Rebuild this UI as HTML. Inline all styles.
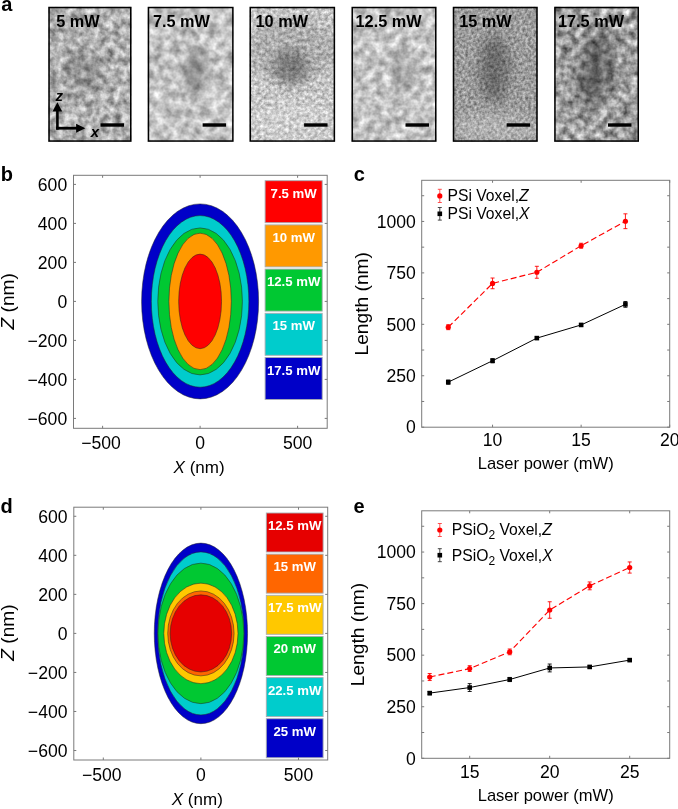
<!DOCTYPE html>
<html><head><meta charset="utf-8"><style>
html,body{margin:0;padding:0;background:#fff;width:678px;height:809px;overflow:hidden}
svg{display:block;font-family:"Liberation Sans", sans-serif;will-change:transform}
</style></head><body>
<svg width="678" height="809" viewBox="0 0 678 809">
<rect width="678" height="809" fill="#fff"/>
<defs>
<clipPath id="fc0"><rect x="48.3" y="6.8" width="83.20" height="135.00"/></clipPath>
<filter id="fn0" x="0" y="0" width="100%" height="100%" color-interpolation-filters="sRGB"><feTurbulence type="fractalNoise" baseFrequency="0.14" numOctaves="3" seed="3"/><feColorMatrix type="matrix" values="0.75 0 0 0 0.315 0.75 0 0 0 0.315 0.75 0 0 0 0.315 0 0 0 0 1"/></filter>
<clipPath id="fc1"><rect x="147.7" y="6.8" width="85.90" height="135.00"/></clipPath>
<filter id="fn1" x="0" y="0" width="100%" height="100%" color-interpolation-filters="sRGB"><feTurbulence type="fractalNoise" baseFrequency="0.11" numOctaves="3" seed="7"/><feColorMatrix type="matrix" values="0.6375 0 0 0 0.451 0.6375 0 0 0 0.451 0.6375 0 0 0 0.451 0 0 0 0 1"/></filter>
<clipPath id="fc2"><rect x="249.5" y="6.8" width="85.60" height="135.00"/></clipPath>
<filter id="fn2" x="0" y="0" width="100%" height="100%" color-interpolation-filters="sRGB"><feTurbulence type="fractalNoise" baseFrequency="0.28" numOctaves="3" seed="11"/><feColorMatrix type="matrix" values="0.6000000000000001 0 0 0 0.480 0.6000000000000001 0 0 0 0.480 0.6000000000000001 0 0 0 0.480 0 0 0 0 1"/></filter>
<clipPath id="fc3"><rect x="351.5" y="6.8" width="85.00" height="135.00"/></clipPath>
<filter id="fn3" x="0" y="0" width="100%" height="100%" color-interpolation-filters="sRGB"><feTurbulence type="fractalNoise" baseFrequency="0.12" numOctaves="3" seed="5"/><feColorMatrix type="matrix" values="0.6375 0 0 0 0.451 0.6375 0 0 0 0.451 0.6375 0 0 0 0.451 0 0 0 0 1"/></filter>
<clipPath id="fc4"><rect x="452.8" y="6.8" width="84.90" height="135.00"/></clipPath>
<filter id="fn4" x="0" y="0" width="100%" height="100%" color-interpolation-filters="sRGB"><feTurbulence type="fractalNoise" baseFrequency="0.35" numOctaves="2" seed="9"/><feColorMatrix type="matrix" values="0.6000000000000001 0 0 0 0.310 0.6000000000000001 0 0 0 0.310 0.6000000000000001 0 0 0 0.310 0 0 0 0 1"/></filter>
<clipPath id="fc5"><rect x="554.2" y="6.8" width="84.80" height="135.00"/></clipPath>
<filter id="fn5" x="0" y="0" width="100%" height="100%" color-interpolation-filters="sRGB"><feTurbulence type="fractalNoise" baseFrequency="0.13" numOctaves="3" seed="13"/><feColorMatrix type="matrix" values="0.9375 0 0 0 0.151 0.9375 0 0 0 0.151 0.9375 0 0 0 0.151 0 0 0 0 1"/></filter>
<filter id="blur6" x="-50%" y="-50%" width="200%" height="200%"><feGaussianBlur stdDeviation="6"/></filter>
</defs>
<g clip-path="url(#fc0)">
<rect x="48.3" y="6.8" width="83.20" height="135.00" filter="url(#fn0)"/>
<ellipse cx="83.2" cy="70.2" rx="20" ry="22" fill="#000" opacity="0.16" filter="url(#blur6)" transform="rotate(0 83.2 70.2)"/>
</g>
<rect x="49.05" y="7.55" width="81.70" height="133.50" fill="none" stroke="#000" stroke-width="1.5"/>
<text x="56.29" y="27.1" font-size="16.3" font-weight="bold" fill="#000">5 mW</text>
<rect x="100.5" y="123.3" width="23.5" height="3.4" fill="#000"/>
<g clip-path="url(#fc1)">
<rect x="147.7" y="6.8" width="85.90" height="135.00" filter="url(#fn1)"/>
<ellipse cx="194.9" cy="71.6" rx="9" ry="22" fill="#000" opacity="0.36" filter="url(#blur6)" transform="rotate(0 194.9 71.6)"/>
</g>
<rect x="148.45" y="7.55" width="84.40" height="133.50" fill="none" stroke="#000" stroke-width="1.5"/>
<text x="152.90" y="27.1" font-size="16.3" font-weight="bold" fill="#000">7.5 mW</text>
<rect x="202.6" y="123.3" width="23.5" height="3.4" fill="#000"/>
<g clip-path="url(#fc2)">
<rect x="249.5" y="6.8" width="85.60" height="135.00" filter="url(#fn2)"/>
<ellipse cx="292.3" cy="50.0" rx="45" ry="32" fill="#000" opacity="0.12" filter="url(#blur6)" transform="rotate(0 292.3 50.0)"/>
<ellipse cx="290.6" cy="67.5" rx="17" ry="18" fill="#000" opacity="0.3" filter="url(#blur6)" transform="rotate(0 290.6 67.5)"/>
<ellipse cx="292.3" cy="121.5" rx="40" ry="20" fill="#fff" opacity="0.15" filter="url(#blur6)" transform="rotate(0 292.3 121.5)"/>
</g>
<rect x="250.25" y="7.55" width="84.10" height="133.50" fill="none" stroke="#000" stroke-width="1.5"/>
<text x="255.57" y="27.1" font-size="16.3" font-weight="bold" fill="#000">10 mW</text>
<rect x="304.1" y="123.3" width="23.5" height="3.4" fill="#000"/>
<g clip-path="url(#fc3)">
<rect x="351.5" y="6.8" width="85.00" height="135.00" filter="url(#fn3)"/>
<ellipse cx="402.5" cy="74.3" rx="7" ry="24" fill="#000" opacity="0.26" filter="url(#blur6)" transform="rotate(0 402.5 74.3)"/>
</g>
<rect x="352.25" y="7.55" width="83.50" height="133.50" fill="none" stroke="#000" stroke-width="1.5"/>
<text x="355.57" y="27.1" font-size="16.3" font-weight="bold" fill="#000">12.5 mW</text>
<rect x="405.5" y="123.3" width="23.5" height="3.4" fill="#000"/>
<g clip-path="url(#fc4)">
<rect x="452.8" y="6.8" width="84.90" height="135.00" filter="url(#fn4)"/>
<ellipse cx="494.4" cy="68.9" rx="15" ry="34" fill="#000" opacity="0.3" filter="url(#blur6)" transform="rotate(0 494.4 68.9)"/>
<ellipse cx="495.2" cy="128.3" rx="45" ry="14" fill="#fff" opacity="0.22" filter="url(#blur6)" transform="rotate(0 495.2 128.3)"/>
</g>
<rect x="453.55" y="7.55" width="83.40" height="133.50" fill="none" stroke="#000" stroke-width="1.5"/>
<text x="459.17" y="27.1" font-size="16.3" font-weight="bold" fill="#000">15 mW</text>
<rect x="506.7" y="123.3" width="23.5" height="3.4" fill="#000"/>
<g clip-path="url(#fc5)">
<rect x="554.2" y="6.8" width="84.80" height="135.00" filter="url(#fn5)"/>
<ellipse cx="595.8" cy="68.9" rx="17" ry="38" fill="#000" opacity="0.36" filter="url(#blur6)" transform="rotate(10 595.8 68.9)"/>
</g>
<rect x="554.95" y="7.55" width="83.30" height="133.50" fill="none" stroke="#000" stroke-width="1.5"/>
<text x="557.97" y="27.1" font-size="16.3" font-weight="bold" fill="#000">17.5 mW</text>
<rect x="608.0" y="123.3" width="23.5" height="3.4" fill="#000"/>
<path d="M57.4 129.7V110" stroke="#000" stroke-width="2.6" fill="none"/>
<path d="M52.5 111.6L57.4 102.3L62.2 111.6Z" fill="#000"/>
<path d="M56.1 128.2H77" stroke="#000" stroke-width="2.8" fill="none"/>
<path d="M76.1 123.8L85.3 128.2L76.1 132.7Z" fill="#000"/>
<text x="55.6" y="100.6" font-size="15" font-weight="bold" font-style="italic">z</text>
<text x="90.8" y="136.9" font-size="15" font-weight="bold" font-style="italic">x</text>
<text x="1.2" y="11.3" font-size="20" font-weight="bold">a</text>
<text x="0.8" y="180.8" font-size="20" font-weight="bold">b</text>
<text x="353.8" y="180.8" font-size="20" font-weight="bold">c</text>
<text x="0.6" y="512.9" font-size="20" font-weight="bold">d</text>
<text x="353.6" y="513" font-size="20" font-weight="bold">e</text>
<rect x="73.5" y="175.3" width="253.7" height="253.0" fill="#fff" stroke="#7a7a7a" stroke-width="1"/>
<ellipse cx="200.1" cy="301.4" rx="58.50" ry="97.50" fill="#0000c8" stroke="#222" stroke-width="0.5"/>
<ellipse cx="200.1" cy="301.4" rx="48.75" ry="85.80" fill="#00cccc" stroke="#222" stroke-width="0.5"/>
<ellipse cx="200.1" cy="301.4" rx="42.32" ry="73.52" fill="#00c832" stroke="#222" stroke-width="0.5"/>
<ellipse cx="200.1" cy="301.4" rx="31.20" ry="68.25" fill="#ff9900" stroke="#222" stroke-width="0.5"/>
<ellipse cx="200.1" cy="301.4" rx="21.45" ry="47.29" fill="#ff0000" stroke="#222" stroke-width="0.5"/>
<rect x="265.1" y="180.70" width="57.099999999999966" height="42" fill="#ff0000" stroke="#a8adb3" stroke-width="0.9"/>
<text x="293.65" y="197.70" font-size="13.2" font-weight="bold" fill="#fff" text-anchor="middle">7.5 mW</text>
<rect x="265.1" y="224.90" width="57.099999999999966" height="42" fill="#ff9900" stroke="#a8adb3" stroke-width="0.9"/>
<text x="293.65" y="241.90" font-size="13.2" font-weight="bold" fill="#fff" text-anchor="middle">10 mW</text>
<rect x="265.1" y="269.10" width="57.099999999999966" height="42" fill="#00c832" stroke="#a8adb3" stroke-width="0.9"/>
<text x="293.65" y="286.10" font-size="13.2" font-weight="bold" fill="#fff" text-anchor="middle">12.5 mW</text>
<rect x="265.1" y="313.30" width="57.099999999999966" height="42" fill="#00cccc" stroke="#a8adb3" stroke-width="0.9"/>
<text x="293.65" y="330.30" font-size="13.2" font-weight="bold" fill="#fff" text-anchor="middle">15 mW</text>
<rect x="265.1" y="357.50" width="57.099999999999966" height="42" fill="#0000c8" stroke="#a8adb3" stroke-width="0.9"/>
<text x="293.65" y="374.50" font-size="13.2" font-weight="bold" fill="#fff" text-anchor="middle">17.5 mW</text>
<path d="M73.5 418.40h2.5M327.2 418.40h-2.5" stroke="#7a7a7a" stroke-width="1"/>
<text x="67.20" y="424.70" font-size="17.6" text-anchor="end">−600</text>
<path d="M73.5 379.40h2.5M327.2 379.40h-2.5" stroke="#7a7a7a" stroke-width="1"/>
<text x="67.20" y="385.70" font-size="17.6" text-anchor="end">−400</text>
<path d="M73.5 340.40h2.5M327.2 340.40h-2.5" stroke="#7a7a7a" stroke-width="1"/>
<text x="67.20" y="346.70" font-size="17.6" text-anchor="end">−200</text>
<path d="M73.5 301.40h2.5M327.2 301.40h-2.5" stroke="#7a7a7a" stroke-width="1"/>
<text x="67.20" y="307.70" font-size="17.6" text-anchor="end">0</text>
<path d="M73.5 262.40h2.5M327.2 262.40h-2.5" stroke="#7a7a7a" stroke-width="1"/>
<text x="67.20" y="268.70" font-size="17.6" text-anchor="end">200</text>
<path d="M73.5 223.40h2.5M327.2 223.40h-2.5" stroke="#7a7a7a" stroke-width="1"/>
<text x="67.20" y="229.70" font-size="17.6" text-anchor="end">400</text>
<path d="M73.5 184.40h2.5M327.2 184.40h-2.5" stroke="#7a7a7a" stroke-width="1"/>
<text x="67.20" y="190.70" font-size="17.6" text-anchor="end">600</text>
<path d="M102.60 428.3v-2.5M102.60 175.3v2.5" stroke="#7a7a7a" stroke-width="1"/>
<text x="101.10" y="448.80" font-size="17.6" text-anchor="middle">−500</text>
<path d="M200.10 428.3v-2.5M200.10 175.3v2.5" stroke="#7a7a7a" stroke-width="1"/>
<text x="200.10" y="448.80" font-size="17.6" text-anchor="middle">0</text>
<path d="M297.60 428.3v-2.5M297.60 175.3v2.5" stroke="#7a7a7a" stroke-width="1"/>
<text x="297.60" y="448.80" font-size="17.6" text-anchor="middle">500</text>
<text x="199.10" y="472.7" font-size="17" text-anchor="middle"><tspan font-style="italic">X</tspan> (nm)</text>
<text transform="translate(14.3 301.30) rotate(-90)" font-size="19.1" text-anchor="middle"><tspan font-style="italic">Z</tspan> (nm)</text>
<rect x="73.8" y="507.2" width="253.89999999999998" height="252.8" fill="#fff" stroke="#7a7a7a" stroke-width="1"/>
<ellipse cx="200.9" cy="633.4" rx="46.65" ry="90.28" fill="#0000c8" stroke="#222" stroke-width="0.5"/>
<ellipse cx="200.9" cy="633.4" rx="43.24" ry="81.50" fill="#00cccc" stroke="#222" stroke-width="0.5"/>
<ellipse cx="200.9" cy="633.4" rx="42.94" ry="70.27" fill="#00c832" stroke="#222" stroke-width="0.5"/>
<ellipse cx="200.9" cy="633.4" rx="37.09" ry="50.26" fill="#ffc800" stroke="#222" stroke-width="0.5"/>
<ellipse cx="200.9" cy="633.4" rx="33.18" ry="42.46" fill="#ff6600" stroke="#222" stroke-width="0.5"/>
<ellipse cx="200.9" cy="633.4" rx="30.74" ry="38.55" fill="#e60000" stroke="#222" stroke-width="0.5"/>
<rect x="266.3" y="513.00" width="56.80000000000001" height="39.0" fill="#e60000" stroke="#a8adb3" stroke-width="0.9"/>
<text x="294.70" y="530.00" font-size="13.2" font-weight="bold" fill="#fff" text-anchor="middle">12.5 mW</text>
<rect x="266.3" y="554.15" width="56.80000000000001" height="39.0" fill="#ff6600" stroke="#a8adb3" stroke-width="0.9"/>
<text x="294.70" y="571.15" font-size="13.2" font-weight="bold" fill="#fff" text-anchor="middle">15 mW</text>
<rect x="266.3" y="595.30" width="56.80000000000001" height="39.0" fill="#ffc800" stroke="#a8adb3" stroke-width="0.9"/>
<text x="294.70" y="612.30" font-size="13.2" font-weight="bold" fill="#fff" text-anchor="middle">17.5 mW</text>
<rect x="266.3" y="636.45" width="56.80000000000001" height="39.0" fill="#00c832" stroke="#a8adb3" stroke-width="0.9"/>
<text x="294.70" y="653.45" font-size="13.2" font-weight="bold" fill="#fff" text-anchor="middle">20 mW</text>
<rect x="266.3" y="677.60" width="56.80000000000001" height="39.0" fill="#00cccc" stroke="#a8adb3" stroke-width="0.9"/>
<text x="294.70" y="694.60" font-size="13.2" font-weight="bold" fill="#fff" text-anchor="middle">22.5 mW</text>
<rect x="266.3" y="718.75" width="56.80000000000001" height="39.0" fill="#0000c8" stroke="#a8adb3" stroke-width="0.9"/>
<text x="294.70" y="735.75" font-size="13.2" font-weight="bold" fill="#fff" text-anchor="middle">25 mW</text>
<path d="M73.8 750.52h2.5M327.7 750.52h-2.5" stroke="#7a7a7a" stroke-width="1"/>
<text x="67.50" y="756.82" font-size="17.6" text-anchor="end">−600</text>
<path d="M73.8 711.48h2.5M327.7 711.48h-2.5" stroke="#7a7a7a" stroke-width="1"/>
<text x="67.50" y="717.78" font-size="17.6" text-anchor="end">−400</text>
<path d="M73.8 672.44h2.5M327.7 672.44h-2.5" stroke="#7a7a7a" stroke-width="1"/>
<text x="67.50" y="678.74" font-size="17.6" text-anchor="end">−200</text>
<path d="M73.8 633.40h2.5M327.7 633.40h-2.5" stroke="#7a7a7a" stroke-width="1"/>
<text x="67.50" y="639.70" font-size="17.6" text-anchor="end">0</text>
<path d="M73.8 594.36h2.5M327.7 594.36h-2.5" stroke="#7a7a7a" stroke-width="1"/>
<text x="67.50" y="600.66" font-size="17.6" text-anchor="end">200</text>
<path d="M73.8 555.32h2.5M327.7 555.32h-2.5" stroke="#7a7a7a" stroke-width="1"/>
<text x="67.50" y="561.62" font-size="17.6" text-anchor="end">400</text>
<path d="M73.8 516.28h2.5M327.7 516.28h-2.5" stroke="#7a7a7a" stroke-width="1"/>
<text x="67.50" y="522.58" font-size="17.6" text-anchor="end">600</text>
<path d="M103.30 760.0v-2.5M103.30 507.2v2.5" stroke="#7a7a7a" stroke-width="1"/>
<text x="101.80" y="780.50" font-size="17.6" text-anchor="middle">−500</text>
<path d="M200.90 760.0v-2.5M200.90 507.2v2.5" stroke="#7a7a7a" stroke-width="1"/>
<text x="200.90" y="780.50" font-size="17.6" text-anchor="middle">0</text>
<path d="M298.50 760.0v-2.5M298.50 507.2v2.5" stroke="#7a7a7a" stroke-width="1"/>
<text x="298.50" y="780.50" font-size="17.6" text-anchor="middle">500</text>
<text x="197.30" y="805.1" font-size="17" text-anchor="middle"><tspan font-style="italic">X</tspan> (nm)</text>
<text transform="translate(14.2 632.60) rotate(-90)" font-size="19.1" text-anchor="middle"><tspan font-style="italic">Z</tspan> (nm)</text>
<rect x="421.7" y="180.3" width="248.00000000000006" height="246.89999999999998" fill="#fff" stroke="#7a7a7a" stroke-width="1"/>
<path d="M421.7 427.20h2.5M669.7 427.20h-2.5" stroke="#7a7a7a" stroke-width="1"/>
<text x="415.80" y="433.40" font-size="17.6" text-anchor="end">0</text>
<path d="M421.7 401.48h2.5M669.7 401.48h-2.5" stroke="#7a7a7a" stroke-width="1"/>
<path d="M421.7 375.76h2.5M669.7 375.76h-2.5" stroke="#7a7a7a" stroke-width="1"/>
<text x="415.80" y="381.96" font-size="17.6" text-anchor="end">250</text>
<path d="M421.7 350.04h2.5M669.7 350.04h-2.5" stroke="#7a7a7a" stroke-width="1"/>
<path d="M421.7 324.32h2.5M669.7 324.32h-2.5" stroke="#7a7a7a" stroke-width="1"/>
<text x="415.80" y="330.52" font-size="17.6" text-anchor="end">500</text>
<path d="M421.7 298.61h2.5M669.7 298.61h-2.5" stroke="#7a7a7a" stroke-width="1"/>
<path d="M421.7 272.89h2.5M669.7 272.89h-2.5" stroke="#7a7a7a" stroke-width="1"/>
<text x="415.80" y="279.09" font-size="17.6" text-anchor="end">750</text>
<path d="M421.7 247.17h2.5M669.7 247.17h-2.5" stroke="#7a7a7a" stroke-width="1"/>
<path d="M421.7 221.45h2.5M669.7 221.45h-2.5" stroke="#7a7a7a" stroke-width="1"/>
<text x="415.80" y="227.65" font-size="17.6" text-anchor="end">1000</text>
<path d="M421.7 195.73h2.5M669.7 195.73h-2.5" stroke="#7a7a7a" stroke-width="1"/>
<path d="M492.56 427.2v-2.5M492.56 180.3v2.5" stroke="#7a7a7a" stroke-width="1"/>
<text x="492.56" y="446.40" font-size="17.6" text-anchor="middle">10</text>
<path d="M581.13 427.2v-2.5M581.13 180.3v2.5" stroke="#7a7a7a" stroke-width="1"/>
<text x="581.13" y="446.40" font-size="17.6" text-anchor="middle">15</text>
<path d="M669.70 427.2v-2.5M669.70 180.3v2.5" stroke="#7a7a7a" stroke-width="1"/>
<text x="669.70" y="446.40" font-size="17.6" text-anchor="middle">20</text>
<polyline points="448.27,382.14 492.56,360.74 536.84,338.11 581.13,324.94 625.41,304.37" fill="none" stroke="#000" stroke-width="1.0"/>
<polyline points="448.27,327.21 492.56,283.38 536.84,272.27 581.13,245.73 625.41,221.24" fill="none" stroke="#ff0000" stroke-width="1.15" stroke-dasharray="6 3"/>
<path d="M448.27 380.08V384.20M446.27 380.08h4M446.27 384.20h4" stroke="#000" stroke-width="0.9"/>
<rect x="445.97" y="379.84" width="4.6" height="4.6" fill="#000"/>
<path d="M492.56 358.69V362.80M490.56 358.69h4M490.56 362.80h4" stroke="#000" stroke-width="0.9"/>
<rect x="490.26" y="358.44" width="4.6" height="4.6" fill="#000"/>
<path d="M536.84 336.88V339.34M534.84 336.88h4M534.84 339.34h4" stroke="#000" stroke-width="0.9"/>
<rect x="534.54" y="335.81" width="4.6" height="4.6" fill="#000"/>
<path d="M581.13 323.71V326.18M579.13 323.71h4M579.13 326.18h4" stroke="#000" stroke-width="0.9"/>
<rect x="578.83" y="322.64" width="4.6" height="4.6" fill="#000"/>
<path d="M625.41 301.49V307.25M623.41 301.49h4M623.41 307.25h4" stroke="#000" stroke-width="0.9"/>
<rect x="623.11" y="302.07" width="4.6" height="4.6" fill="#000"/>
<path d="M448.27 324.74V329.67M446.27 324.74h4M446.27 329.67h4" stroke="#ff0000" stroke-width="0.9"/>
<circle cx="448.27" cy="327.21" r="2.6" fill="#ff0000"/>
<path d="M492.56 278.03V288.73M490.56 278.03h4M490.56 288.73h4" stroke="#ff0000" stroke-width="0.9"/>
<circle cx="492.56" cy="283.38" r="2.6" fill="#ff0000"/>
<path d="M536.84 266.30V278.24M534.84 266.30h4M534.84 278.24h4" stroke="#ff0000" stroke-width="0.9"/>
<circle cx="536.84" cy="272.27" r="2.6" fill="#ff0000"/>
<path d="M581.13 243.26V248.20M579.13 243.26h4M579.13 248.20h4" stroke="#ff0000" stroke-width="0.9"/>
<circle cx="581.13" cy="245.73" r="2.6" fill="#ff0000"/>
<path d="M625.41 213.84V228.65M623.41 213.84h4M623.41 228.65h4" stroke="#ff0000" stroke-width="0.9"/>
<circle cx="625.41" cy="221.24" r="2.6" fill="#ff0000"/>
<path d="M439.8 189.3V202.5M437.8 189.3h4M437.8 202.5h4" stroke="#ff4040" stroke-width="0.9"/>
<circle cx="439.8" cy="195.9" r="2.6" fill="#ff0000"/>
<path d="M439.8 207.5V220.10000000000002M437.8 207.5h4M437.8 220.10000000000002h4" stroke="#333" stroke-width="0.9"/>
<rect x="437.5" y="211.5" width="4.6" height="4.6" fill="#000"/>
<text x="447.5" y="200.90" font-size="15.7">PSi Voxel,<tspan font-style="italic">Z</tspan></text>
<text x="447.5" y="219.20" font-size="15.7">PSi Voxel,<tspan font-style="italic">X</tspan></text>
<text x="545.70" y="469.2" font-size="16.55" text-anchor="middle">Laser power (mW)</text>
<text transform="translate(367.9 303.75) rotate(-90)" font-size="19.2" text-anchor="middle">Length (nm)</text>
<rect x="421.7" y="510.8" width="248.00000000000006" height="247.49999999999994" fill="#fff" stroke="#7a7a7a" stroke-width="1"/>
<path d="M421.7 758.30h2.5M669.7 758.30h-2.5" stroke="#7a7a7a" stroke-width="1"/>
<text x="415.80" y="764.50" font-size="17.6" text-anchor="end">0</text>
<path d="M421.7 732.52h2.5M669.7 732.52h-2.5" stroke="#7a7a7a" stroke-width="1"/>
<path d="M421.7 706.74h2.5M669.7 706.74h-2.5" stroke="#7a7a7a" stroke-width="1"/>
<text x="415.80" y="712.94" font-size="17.6" text-anchor="end">250</text>
<path d="M421.7 680.96h2.5M669.7 680.96h-2.5" stroke="#7a7a7a" stroke-width="1"/>
<path d="M421.7 655.17h2.5M669.7 655.17h-2.5" stroke="#7a7a7a" stroke-width="1"/>
<text x="415.80" y="661.38" font-size="17.6" text-anchor="end">500</text>
<path d="M421.7 629.39h2.5M669.7 629.39h-2.5" stroke="#7a7a7a" stroke-width="1"/>
<path d="M421.7 603.61h2.5M669.7 603.61h-2.5" stroke="#7a7a7a" stroke-width="1"/>
<text x="415.80" y="609.81" font-size="17.6" text-anchor="end">750</text>
<path d="M421.7 577.83h2.5M669.7 577.83h-2.5" stroke="#7a7a7a" stroke-width="1"/>
<path d="M421.7 552.05h2.5M669.7 552.05h-2.5" stroke="#7a7a7a" stroke-width="1"/>
<text x="415.80" y="558.25" font-size="17.6" text-anchor="end">1000</text>
<path d="M421.7 526.27h2.5M669.7 526.27h-2.5" stroke="#7a7a7a" stroke-width="1"/>
<path d="M469.70 758.3v-2.5M469.70 510.8v2.5" stroke="#7a7a7a" stroke-width="1"/>
<text x="469.70" y="777.50" font-size="17.6" text-anchor="middle">15</text>
<path d="M549.70 758.3v-2.5M549.70 510.8v2.5" stroke="#7a7a7a" stroke-width="1"/>
<text x="549.70" y="777.50" font-size="17.6" text-anchor="middle">20</text>
<path d="M629.70 758.3v-2.5M629.70 510.8v2.5" stroke="#7a7a7a" stroke-width="1"/>
<text x="629.70" y="777.50" font-size="17.6" text-anchor="middle">25</text>
<polyline points="429.70,693.12 469.70,687.56 509.70,679.51 549.70,667.96 589.70,666.93 629.70,660.12" fill="none" stroke="#000" stroke-width="1.0"/>
<polyline points="429.70,677.04 469.70,668.58 509.70,651.88 549.70,610.01 589.70,585.88 629.70,567.52" fill="none" stroke="#ff0000" stroke-width="1.15" stroke-dasharray="6 3"/>
<path d="M429.70 691.48V694.77M427.70 691.48h4M427.70 694.77h4" stroke="#000" stroke-width="0.9"/>
<rect x="427.40" y="690.83" width="4.6" height="4.6" fill="#000"/>
<path d="M469.70 683.64V691.48M467.70 683.64h4M467.70 691.48h4" stroke="#000" stroke-width="0.9"/>
<rect x="467.40" y="685.26" width="4.6" height="4.6" fill="#000"/>
<path d="M509.70 677.45V681.57M507.70 677.45h4M507.70 681.57h4" stroke="#000" stroke-width="0.9"/>
<rect x="507.40" y="677.21" width="4.6" height="4.6" fill="#000"/>
<path d="M549.70 664.04V671.88M547.70 664.04h4M547.70 671.88h4" stroke="#000" stroke-width="0.9"/>
<rect x="547.40" y="665.66" width="4.6" height="4.6" fill="#000"/>
<path d="M589.70 665.69V668.17M587.70 665.69h4M587.70 668.17h4" stroke="#000" stroke-width="0.9"/>
<rect x="587.40" y="664.63" width="4.6" height="4.6" fill="#000"/>
<path d="M629.70 658.89V661.36M627.70 658.89h4M627.70 661.36h4" stroke="#000" stroke-width="0.9"/>
<rect x="627.40" y="657.83" width="4.6" height="4.6" fill="#000"/>
<path d="M429.70 673.53V680.54M427.70 673.53h4M427.70 680.54h4" stroke="#ff0000" stroke-width="0.9"/>
<circle cx="429.70" cy="677.04" r="2.6" fill="#ff0000"/>
<path d="M469.70 665.69V671.47M467.70 665.69h4M467.70 671.47h4" stroke="#ff0000" stroke-width="0.9"/>
<circle cx="469.70" cy="668.58" r="2.6" fill="#ff0000"/>
<path d="M509.70 648.99V654.76M507.70 648.99h4M507.70 654.76h4" stroke="#ff0000" stroke-width="0.9"/>
<circle cx="509.70" cy="651.88" r="2.6" fill="#ff0000"/>
<path d="M549.70 601.76V618.26M547.70 601.76h4M547.70 618.26h4" stroke="#ff0000" stroke-width="0.9"/>
<circle cx="549.70" cy="610.01" r="2.6" fill="#ff0000"/>
<path d="M589.70 581.96V589.79M587.70 581.96h4M587.70 589.79h4" stroke="#ff0000" stroke-width="0.9"/>
<circle cx="589.70" cy="585.88" r="2.6" fill="#ff0000"/>
<path d="M629.70 561.95V573.09M627.70 561.95h4M627.70 573.09h4" stroke="#ff0000" stroke-width="0.9"/>
<circle cx="629.70" cy="567.52" r="2.6" fill="#ff0000"/>
<path d="M439.8 523.5V536.5M437.8 523.5h4M437.8 536.5h4" stroke="#ff4040" stroke-width="0.9"/>
<circle cx="439.8" cy="530.0" r="2.6" fill="#ff0000"/>
<path d="M439.8 548.7V561.7M437.8 548.7h4M437.8 561.7h4" stroke="#333" stroke-width="0.9"/>
<rect x="437.5" y="552.9000000000001" width="4.6" height="4.6" fill="#000"/>
<text x="451.8" y="535.00" font-size="15.7">PSiO<tspan font-size="12" dy="4">2</tspan><tspan dy="-4"> Voxel,</tspan><tspan font-style="italic">Z</tspan></text>
<text x="451.8" y="560.60" font-size="15.7">PSiO<tspan font-size="12" dy="4">2</tspan><tspan dy="-4"> Voxel,</tspan><tspan font-style="italic">X</tspan></text>
<text x="545.70" y="800.6" font-size="16.55" text-anchor="middle">Laser power (mW)</text>
<text transform="translate(363.6 634.55) rotate(-90)" font-size="19.2" text-anchor="middle">Length (nm)</text>
</svg>
</body></html>
